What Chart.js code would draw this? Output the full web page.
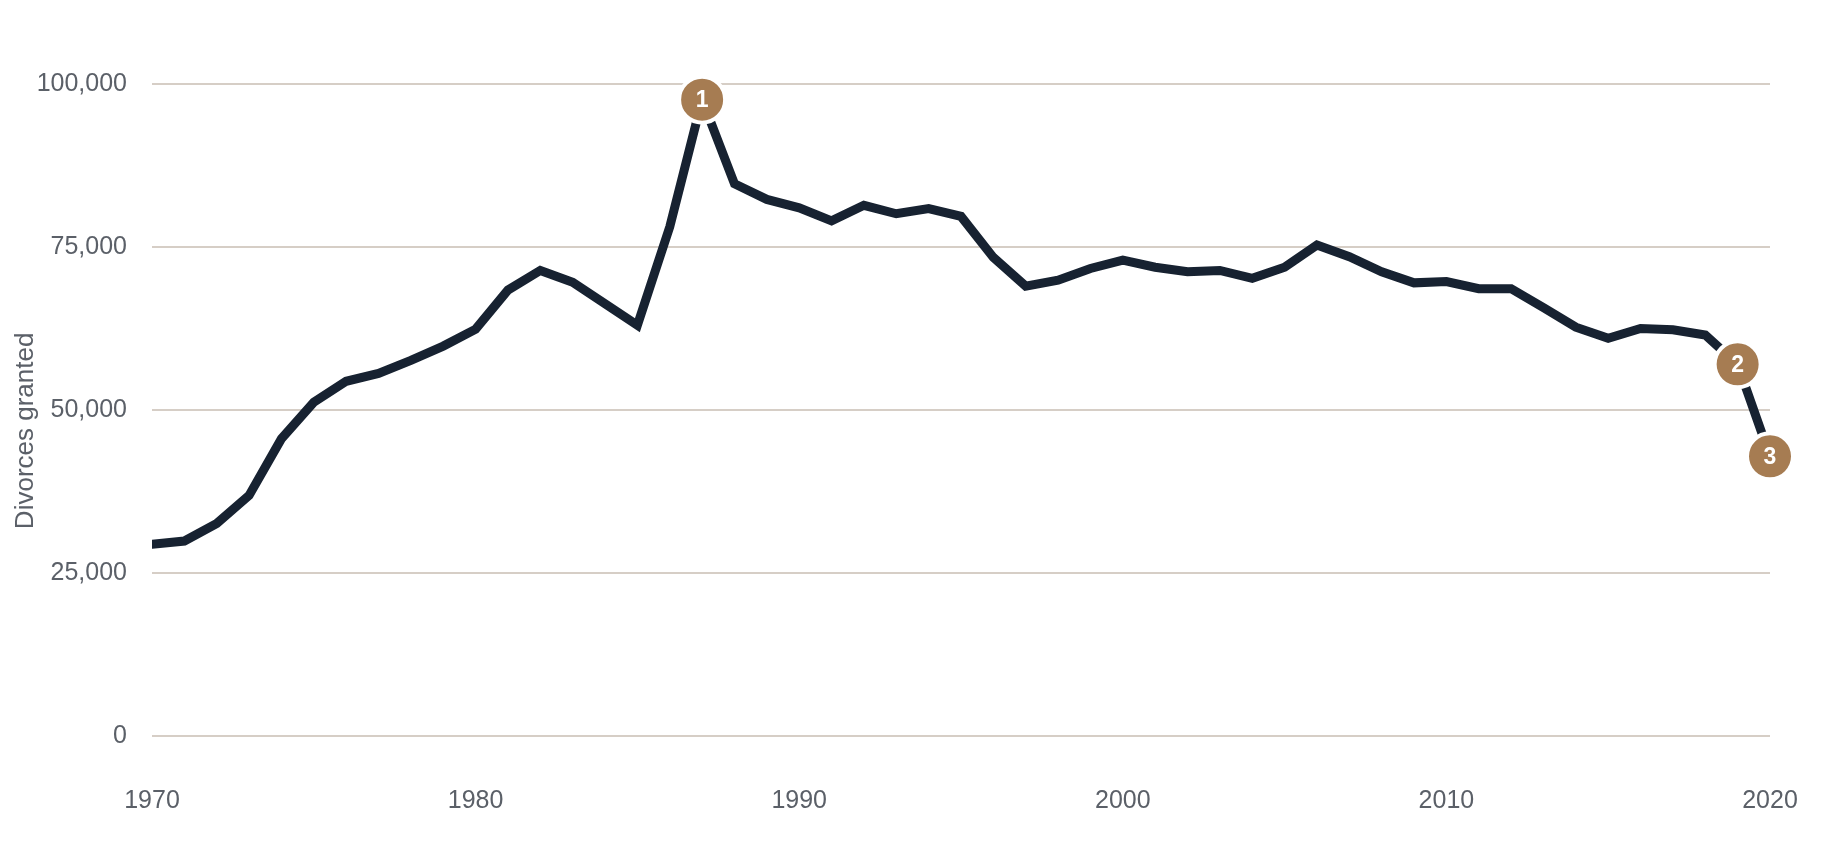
<!DOCTYPE html>
<html>
<head>
<meta charset="utf-8">
<script src="https://cdn.jsdelivr.net/npm/chart.js@4"></script>
<style>
    html, body { margin: 0; padding: 0; background: #ffffff; }
    #wrap { width: 1840px; height: 862px; position: relative; }
</style>
</head>
<body>
<div id="wrap"><canvas id="divorceChart"></canvas></div>
<script>
// Divorces granted per year, 1970-2020
const years = [
    1970, 1971, 1972, 1973, 1974, 1975, 1976, 1977, 1978, 1979,
    1980, 1981, 1982, 1983, 1984, 1985, 1986, 1987, 1988, 1989,
    1990, 1991, 1992, 1993, 1994, 1995, 1996, 1997, 1998, 1999,
    2000, 2001, 2002, 2003, 2004, 2005, 2006, 2007, 2008, 2009,
    2010, 2011, 2012, 2013, 2014, 2015, 2016, 2017, 2018, 2019,
    2020
];
const divorces = [
    29400, 29900, 32600, 36900, 45600, 51200, 54400, 55600, 57600, 59800,
    62400, 68400, 71400, 69600, 66300, 63000, 78100, 97600, 84700, 82300,
    81000, 79000, 81400, 80100, 80900, 79700, 73400, 69000, 69900, 71700,
    73000, 71900, 71200, 71400, 70200, 71900, 75300, 73500, 71200, 69500,
    69700, 68600, 68600, 65700, 62700, 61000, 62500, 62300, 61500, 57000,
    42900
];

// numbered call-outs
const markerYears = [1987, 2019, 2020];
const markerLabels = ['1', '2', '3'];

const yTicks = [0, 25000, 50000, 75000, 100000];
const xTicks = [1970, 1980, 1990, 2000, 2010, 2020];
const yTitle = 'Divorces granted';

const FONT = '"Liberation Sans", Arial, Helvetica, sans-serif';
const TEXT_GREY = '#5b6068';

const lineData = years.map((y, i) => ({ x: y, y: divorces[i] }));
const markerData = markerYears.map(y => ({ x: y, y: divorces[years.indexOf(y)] }));

// writes the number inside each call-out circle
const markerNumbers = {
    id: 'markerNumbers',
    afterDatasetsDraw(chart) {
        const meta = chart.getDatasetMeta(1);
        const ctx = chart.ctx;
        ctx.save();
        ctx.fillStyle = '#ffffff';
        ctx.font = 'bold 23px ' + FONT;
        ctx.textAlign = 'center';
        ctx.textBaseline = 'middle';
        meta.data.forEach((pt, i) => {
            ctx.fillText(markerLabels[i], pt.x, pt.y + 1);
        });
        ctx.restore();
    }
};

// y axis title, sits a little below the middle of the plot
const axisTitle = {
    id: 'axisTitle',
    afterDraw(chart) {
        const ctx = chart.ctx;
        const area = chart.chartArea;
        ctx.save();
        ctx.translate(26, area.top + (area.bottom - area.top) * 0.532);
        ctx.rotate(-Math.PI / 2);
        ctx.fillStyle = TEXT_GREY;
        ctx.font = '26px ' + FONT;
        ctx.textAlign = 'center';
        ctx.textBaseline = 'middle';
        ctx.fillText(yTitle, 0, 0);
        ctx.restore();
    }
};

new Chart(document.getElementById('divorceChart'), {
    type: 'line',
    data: {
        datasets: [{
            label: yTitle,
            data: lineData,
            order: 1,
            borderColor: '#172231',
            borderWidth: 9,
            borderCapStyle: 'round',
            borderJoinStyle: 'miter',
            pointRadius: 0,
            tension: 0,
            fill: false
        }, {
            label: 'Markers',
            data: markerData,
            order: 0,
            showLine: false,
            pointRadius: 23,
            pointBackgroundColor: '#a67c52',
            pointBorderColor: '#ffffff',
            pointBorderWidth: 4,
            clip: false
        }]
    },
    options: {
        responsive: true,
        maintainAspectRatio: false,
        animation: false,
        layout: {
            padding: { top: 84, right: 70, bottom: 0, left: 0 }
        },
        scales: {
            x: {
                type: 'linear',
                min: 1970,
                max: 2020,
                afterBuildTicks: function(scale) {
                    scale.ticks = xTicks.map(v => ({ value: v }));
                },
                afterFit: function(scale) {
                    scale.height = 126;
                    scale.paddingLeft = 0;
                    scale.paddingRight = 0;
                },
                grid: { display: false, drawTicks: false },
                border: { display: false },
                ticks: {
                    padding: 50,
                    color: TEXT_GREY,
                    font: { family: FONT, size: 25 },
                    maxRotation: 0,
                    callback: function(value) { return String(value); }
                }
            },
            y: {
                min: 0,
                max: 100000,
                afterBuildTicks: function(scale) {
                    scale.ticks = yTicks.map(v => ({ value: v }));
                },
                afterFit: function(scale) { scale.width = 152; },
                grid: {
                    color: '#d6cec6',
                    lineWidth: 2,
                    drawTicks: false
                },
                border: { display: false },
                ticks: {
                    padding: 25,
                    color: TEXT_GREY,
                    font: { family: FONT, size: 25 },
                    callback: function(value) { return value.toLocaleString('en-US'); }
                }
            }
        },
        plugins: {
            legend: { display: false },
            tooltip: { enabled: false }
        }
    },
    plugins: [markerNumbers, axisTitle]
});
</script>
</body>
</html>
